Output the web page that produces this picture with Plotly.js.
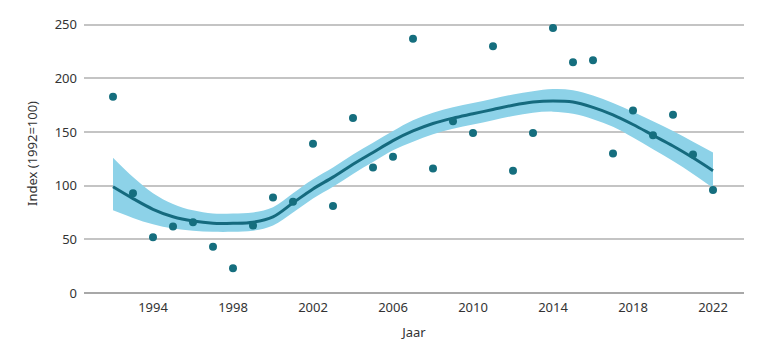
<!DOCTYPE html>
<html>
<head>
<meta charset="utf-8">
<script src="https://cdn.plot.ly/plotly-3.0.1.min.js"></script>
<style>html,body{margin:0;padding:0;background:#fff;}#chart{width:770px;height:352px;}</style>
</head>
<body>
<div id="chart"></div>
<script>
const years = [1992,1993,1994,1995,1996,1997,1998,1999,2000,2001,2002,2003,2004,2005,2006,2007,2008,2009,2010,2011,2012,2013,2014,2015,2016,2017,2018,2019,2020,2021,2022];
const observed = [183,93,52,62,66,43,23,63,89,85,139,81,163,117,127,237,116,160,149,230,114,149,247,215,217,130,170,147,166,129,96];
const trend = [99,88,78,71,67,65,65,66,71,84,97,108,120,131,142,151,158,163,167,171,175,178,179,178,173,166,157,147,137,126,114];
const upper = [126,108,93,83,77,74,74,75,80,93,106,117,129,140,151,161,168,173,177,181,185,188,190,189,184,177,169,160,151,141,131];
const lower = [77,70,64,60,58,57,57,58,63,75,88,99,111,122,133,141,148,153,157,161,165,168,169,167,162,155,145,134,123,111,98];
const xTicks = [1994,1998,2002,2006,2010,2014,2018,2022];
const yTicks = [0,50,100,150,200,250];

const font = "'Noto Sans', 'Open Sans', sans-serif";
const traces = [
  {x: years, y: lower, type: 'scatter', mode: 'lines', line: {width: 0, shape: 'spline'}, hoverinfo: 'skip', showlegend: false},
  {x: years, y: upper, type: 'scatter', mode: 'lines', line: {width: 0, shape: 'spline'}, fill: 'tonexty', fillcolor: '#8dd2e8', hoverinfo: 'skip', showlegend: false},
  {x: years, y: trend, type: 'scatter', mode: 'lines', line: {color: '#156a7e', width: 3, shape: 'spline'}, showlegend: false},
  {x: years, y: observed, type: 'scatter', mode: 'markers', marker: {color: '#156e7e', size: 8}, showlegend: false}
];
const layout = {
  width: 770, height: 352,
  margin: {l: 84, r: 26, t: 14, b: 59},
  paper_bgcolor: '#fff', plot_bgcolor: '#fff',
  font: {family: font, color: '#333', size: 13},
  xaxis: {
    range: [1990.55, 2023.55], tickvals: xTicks, ticktext: xTicks.map(String),
    showgrid: false, zeroline: false, showline: false, ticks: '',
    ticklabelstandoff: 5,
    tickfont: {size: 13, color: '#333'},
    title: {text: 'Jaar', font: {size: 13, color: '#333'}, standoff: 12}
  },
  yaxis: {
    range: [0, 260], tickvals: yTicks, ticktext: yTicks.map(String),
    showgrid: true, gridcolor: '#c4c4c4', gridwidth: 2,
    zeroline: true, zerolinecolor: '#a8a8a8', zerolinewidth: 2,
    showline: false, ticks: '', ticklen: 0,
    ticklabelstandoff: 6,
    tickfont: {size: 13, color: '#333'},
    title: {text: 'Index (1992=100)', font: {size: 13, color: '#333'}, standoff: 14}
  }
};
Plotly.newPlot('chart', traces, layout, {displayModeBar: false, staticPlot: true});
</script>
</body>
</html>
